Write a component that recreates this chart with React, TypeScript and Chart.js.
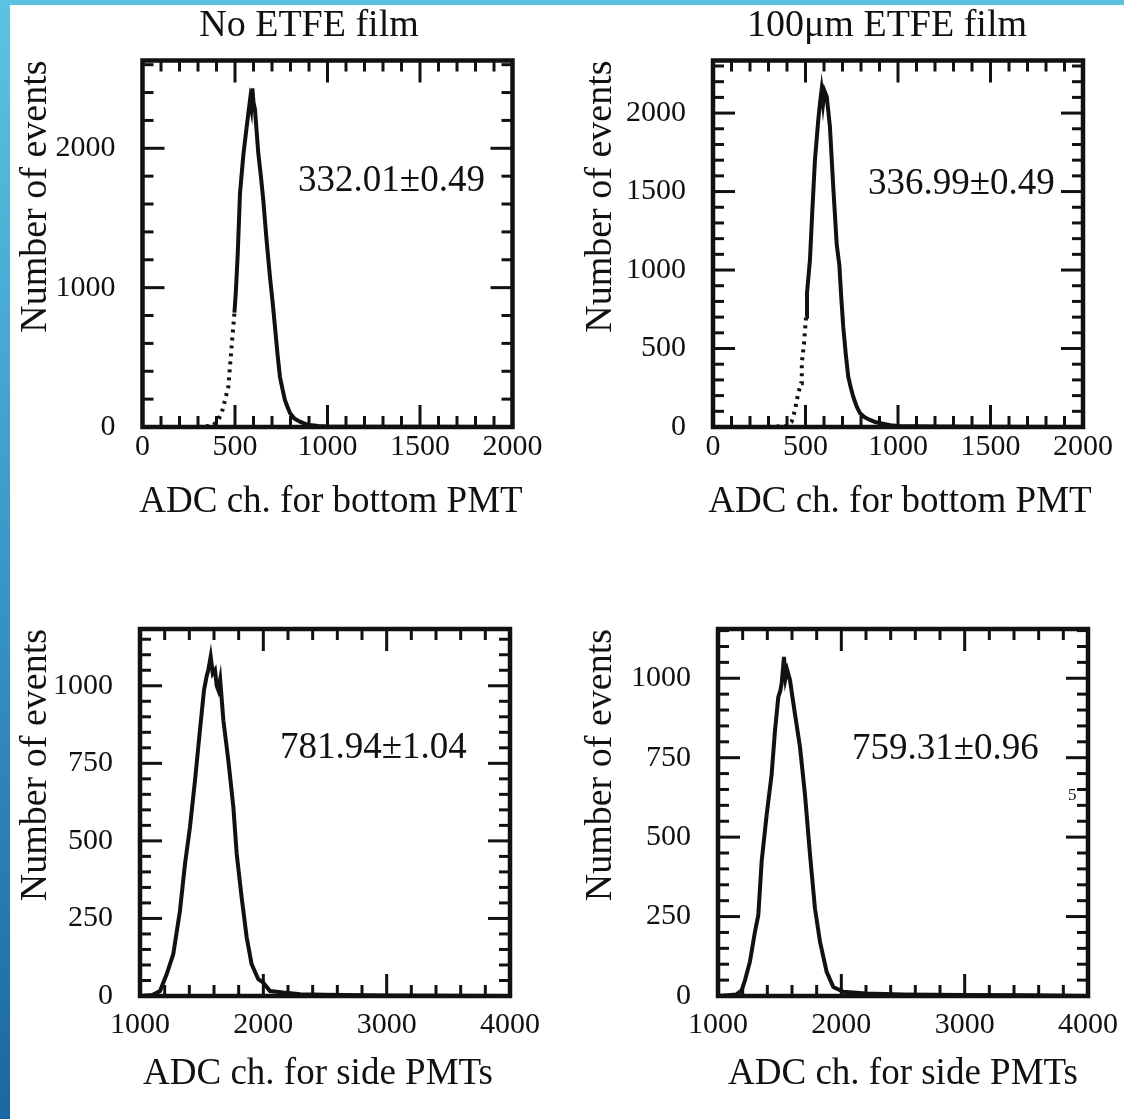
import React, { useEffect, useRef } from 'react';
import { Chart, registerables } from 'chart.js';

Chart.register(...registerables);

const FONT = '"Liberation Serif", "Times New Roman", serif';

// ---- text ----
const panelTitles = ['No ETFE film', '100μm ETFE film', '', ''];
const xAxisTitles = [
  'ADC ch. for bottom PMT',
  'ADC ch. for bottom PMT',
  'ADC ch. for side PMTs',
  'ADC ch. for side PMTs',
];
const yAxisTitle = 'Number of events';
const fitLabels = ['332.01±0.49', '336.99±0.49', '781.94±1.04', '759.31±0.96'];
const fitLabelX = [841, 838, 2135, 2086];
const fitLabelY = [1763, 1548, 799, 778];
const pageNote = '5';

// ---- tick labels ----
const bottomXTicks = [0, 500, 1000, 1500, 2000];
const sideXTicks = [1000, 2000, 3000, 4000];
const noFilmBottomYTicks = [0, 1000, 2000];
const filmBottomYTicks = [0, 500, 1000, 1500, 2000];
const sideYTicks = [0, 250, 500, 750, 1000];

// ---- series: bottom PMT, no film ----
const noFilmBottomADC = [300, 380, 410, 430, 446, 464, 475, 487, 497, 505, 515, 527, 545, 563, 573, 581, 588, 594, 600, 608, 617, 626, 640, 653, 670, 689, 703, 716, 730, 743, 757, 770, 785, 797, 820, 851, 880, 905, 950, 1000, 1200, 1500, 2000];
const noFilmBottomCounts = [0, 10, 50, 110, 193, 289, 470, 660, 820, 980, 1250, 1677, 1950, 2153, 2260, 2344, 2290, 2430, 2330, 2280, 2120, 1964, 1800, 1627, 1350, 1077, 900, 719, 520, 360, 270, 193, 140, 100, 62, 38, 22, 14, 8, 4, 2, 1, 0];

// ---- series: bottom PMT, 100um film ----
const filmBottomADC = [300, 400, 425, 443, 461, 476, 480, 492, 503, 508, 524, 537, 551, 569, 578, 587, 595, 603, 615, 632, 650, 669, 683, 693, 704, 718, 731, 745, 758, 777, 795, 820, 849, 880, 912, 960, 1000, 1200, 1500, 2000];
const filmBottomCounts = [0, 8, 34, 108, 215, 278, 406, 533, 703, 852, 1064, 1380, 1700, 1955, 2060, 2147, 2060, 2140, 2104, 1913, 1530, 1159, 1032, 830, 639, 460, 320, 250, 193, 130, 87, 62, 45, 30, 23, 12, 6, 3, 1, 0];

// ---- series: side PMTs, no film ----
const noFilmSideADC = [1000, 1100, 1162, 1216, 1270, 1324, 1365, 1405, 1446, 1486, 1519, 1540, 1554, 1573, 1590, 1608, 1622, 1635, 1650, 1676, 1716, 1757, 1784, 1824, 1865, 1905, 1959, 2000, 2054, 2162, 2300, 2500, 3000, 3500, 4000];
const noFilmSideCounts = [0, 3, 16, 70, 135, 275, 426, 544, 695, 857, 986, 1030, 1051, 1094, 1040, 1051, 1000, 986, 1020, 889, 760, 609, 458, 318, 189, 103, 54, 43, 16, 11, 6, 4, 2, 1, 0];

// ---- series: side PMTs, 100um film ----
const filmSideADC = [1000, 1150, 1192, 1219, 1259, 1300, 1327, 1354, 1395, 1435, 1462, 1489, 1505, 1516, 1535, 1548, 1562, 1584, 1600, 1624, 1665, 1705, 1746, 1786, 1827, 1881, 1935, 2016, 2200, 2500, 3000, 3500, 4000];
const filmSideCounts = [0, 5, 18, 50, 108, 203, 255, 424, 572, 698, 835, 941, 960, 983, 1067, 1000, 1025, 994, 950, 888, 783, 635, 445, 276, 171, 76, 28, 13, 8, 5, 3, 2, 0];

type PanelCfg = {
  left: number; top: number; width: number; height: number;
  area: { l: number; r: number; t: number; b: number };
  title: string; titleCY: number;
  yTitleCX: number; xTitleCX: number; xTitleCY: number;
  xTitle: string;
  xMin: number; xMax: number; xTicks: number[]; xMinor: number;
  yMax: number; yTicks: number[]; yMinor: number;
  xs: number[]; ys: number[];
  dotUntil: number;
  label: string; labelX: number; labelY: number;
  xTickPad: number;
  note?: string; noteX?: number; noteY?: number;
};

const panels: PanelCfg[] = [
  {
    left: 0, top: 0, width: 618, height: 545,
    area: { l: 142.5, r: 512.5, t: 60.5, b: 427 },
    title: panelTitles[0], titleCY: 26, yTitleCX: 36, xTitleCX: 331, xTitleCY: 502,
    xTitle: xAxisTitles[0],
    xMin: 0, xMax: 2000, xTicks: bottomXTicks, xMinor: 100,
    yMax: 2630, yTicks: noFilmBottomYTicks, yMinor: 200,
    xs: noFilmBottomADC, ys: noFilmBottomCounts, dotUntil: 497,
    label: fitLabels[0], labelX: fitLabelX[0], labelY: fitLabelY[0],
    xTickPad: 2,
  },
  {
    left: 560, top: 0, width: 654, height: 545,
    area: { l: 713, r: 1083, t: 60.5, b: 427 },
    title: panelTitles[1], titleCY: 26, yTitleCX: 601, xTitleCX: 900, xTitleCY: 502,
    xTitle: xAxisTitles[1],
    xMin: 0, xMax: 2000, xTicks: bottomXTicks, xMinor: 100,
    yMax: 2335, yTicks: filmBottomYTicks, yMinor: 100,
    xs: filmBottomADC, ys: filmBottomCounts, dotUntil: 503,
    label: fitLabels[1], labelX: fitLabelX[1], labelY: fitLabelY[1],
    xTickPad: 2,
  },
  {
    left: 0, top: 560, width: 618, height: 559,
    area: { l: 140, r: 510, t: 629, b: 996 },
    title: panelTitles[2], titleCY: 0, yTitleCX: 36, xTitleCX: 318, xTitleCY: 1074,
    xTitle: xAxisTitles[2],
    xMin: 1000, xMax: 4000, xTicks: sideXTicks, xMinor: 200,
    yMax: 1183, yTicks: sideYTicks, yMinor: 50,
    xs: noFilmSideADC, ys: noFilmSideCounts, dotUntil: 0,
    label: fitLabels[2], labelX: fitLabelX[2], labelY: fitLabelY[2],
    xTickPad: 11,
  },
  {
    left: 560, top: 560, width: 654, height: 559,
    area: { l: 718, r: 1088, t: 629, b: 996 },
    title: panelTitles[3], titleCY: 0, yTitleCX: 601, xTitleCX: 903, xTitleCY: 1074,
    xTitle: xAxisTitles[3],
    xMin: 1000, xMax: 4000, xTicks: sideXTicks, xMinor: 200,
    yMax: 1155, yTicks: sideYTicks, yMinor: 50,
    xs: filmSideADC, ys: filmSideCounts, dotUntil: 0,
    label: fitLabels[3], labelX: fitLabelX[3], labelY: fitLabelY[3],
    xTickPad: 11,
    note: pageNote, noteX: 3838, noteY: 630,
  },
];

const framePlugin = {
  id: 'frame',
  afterDraw(chart: any, _args: any, opts: any) {
    const { ctx, chartArea } = chart;
    const { left, right, top, bottom } = chartArea;
    const xs = chart.scales.x;
    const ys = chart.scales.y;
    ctx.save();
    ctx.strokeStyle = '#111';
    ctx.lineCap = 'butt';
    const seg = (x1: number, y1: number, x2: number, y2: number) => {
      ctx.beginPath();
      ctx.moveTo(x1, y1);
      ctx.lineTo(x2, y2);
      ctx.stroke();
    };
    ctx.lineWidth = 3;
    const nx = Math.round((opts.xMax - opts.xMin) / opts.xMinor);
    for (let i = 0; i <= nx; i++) {
      const v = opts.xMin + i * opts.xMinor;
      const len = opts.xTicks.includes(v) ? 22 : 11;
      const px = xs.getPixelForValue(v);
      seg(px, bottom, px, bottom - len);
      seg(px, top, px, top + len);
    }
    const ny = Math.floor(opts.yMax / opts.yMinor);
    for (let i = 0; i <= ny; i++) {
      const v = i * opts.yMinor;
      const len = opts.yTicks.includes(v) ? 22 : 11;
      const py = ys.getPixelForValue(v);
      seg(left, py, left + len, py);
      seg(right, py, right - len, py);
    }
    ctx.lineWidth = 4.5;
    ctx.strokeRect(left, top, right - left, bottom - top);
    ctx.fillStyle = '#111';
    ctx.textBaseline = 'middle';
    // axis title (drawn here so it is not squeezed to the plot width)
    ctx.font = `37px ${FONT}`;
    ctx.textAlign = 'center';
    ctx.fillText(opts.xTitle, opts.xTitleX, opts.xTitleY);
    // fit result
    ctx.textAlign = 'left';
    ctx.fillText(opts.label, xs.getPixelForValue(opts.labelX), ys.getPixelForValue(opts.labelY));
    if (opts.note) {
      ctx.font = `17px ${FONT}`;
      ctx.fillText(opts.note, xs.getPixelForValue(opts.noteX), ys.getPixelForValue(opts.noteY));
    }
    ctx.restore();
  },
};

function Panel({ cfg }: { cfg: PanelCfg }) {
  const ref = useRef<HTMLCanvasElement | null>(null);
  useEffect(() => {
    if (!ref.current) return;
    const tickFont = { family: FONT, size: 30, weight: 'normal' as const };
    const tsize = 38;
    const titleFont = { family: FONT, size: tsize, weight: 'normal' as const, lineHeight: 1.2 };
    const lh = tsize * 1.2;
    const hasTitle = !!cfg.title;
    const titlePadTop = cfg.titleCY - cfg.top - lh / 2;
    const titlePadBottom = cfg.area.t - cfg.top - titlePadTop - lh;
    const chart = new Chart(ref.current, {
      type: 'line',
      data: {
        datasets: [
          {
            data: cfg.xs.map((x, i) => ({ x, y: cfg.ys[i] })),
            borderColor: '#111',
            borderWidth: 4,
            pointRadius: 0,
            tension: 0,
            fill: false,
            segment: {
              borderDash: (c: any) => (c.p1.parsed.x <= cfg.dotUntil ? [3, 5] : undefined),
            },
          },
        ],
      },
      plugins: [framePlugin],
      options: {
        animation: false,
        responsive: false,
        devicePixelRatio: 1,
        layout: {
          padding: { top: hasTitle ? 0 : cfg.area.t - cfg.top, left: 0, right: 0, bottom: 0 },
        },
        plugins: {
          legend: { display: false },
          tooltip: { enabled: false },
          title: {
            display: hasTitle,
            text: cfg.title,
            color: '#111',
            font: titleFont,
            padding: { top: titlePadTop, bottom: titlePadBottom },
          },
          frame: {
            xMin: cfg.xMin, xMax: cfg.xMax, xTicks: cfg.xTicks, xMinor: cfg.xMinor,
            yMax: cfg.yMax, yTicks: cfg.yTicks, yMinor: cfg.yMinor,
            label: cfg.label, labelX: cfg.labelX, labelY: cfg.labelY,
            xTitle: cfg.xTitle, xTitleX: cfg.xTitleCX - cfg.left, xTitleY: cfg.xTitleCY - cfg.top,
            note: cfg.note, noteX: cfg.noteX, noteY: cfg.noteY,
          },
        } as any,
        scales: {
          x: {
            type: 'linear',
            min: cfg.xMin,
            max: cfg.xMax,
            grid: { display: false, drawTicks: false },
            border: { display: false },
            afterBuildTicks: (s: any) => {
              s.ticks = cfg.xTicks.map((v) => ({ value: v }));
            },
            ticks: {
              font: tickFont,
              color: '#111',
              padding: cfg.xTickPad,
              maxRotation: 0,
              autoSkip: false,
              callback: (v: any) => String(v),
            },
            title: { display: false },
            afterFit: (s: any) => {
              s.height = cfg.top + cfg.height - cfg.area.b;
            },
          },
          y: {
            type: 'linear',
            min: 0,
            max: cfg.yMax,
            grid: { display: false, drawTicks: false },
            border: { display: false },
            afterBuildTicks: (s: any) => {
              s.ticks = cfg.yTicks.map((v) => ({ value: v }));
            },
            ticks: {
              font: tickFont,
              color: '#111',
              padding: 27,
              autoSkip: false,
              callback: (v: any) => String(v),
            },
            title: {
              display: true,
              text: yAxisTitle,
              align: 'end',
              color: '#111',
              font: titleFont,
              padding: { top: cfg.yTitleCX - cfg.left - lh / 2, bottom: 0 },
            },
            afterFit: (s: any) => {
              s.width = cfg.area.l - cfg.left;
            },
          },
          yR: {
            type: 'linear',
            position: 'right',
            display: true,
            grid: { display: false, drawTicks: false },
            border: { display: false },
            ticks: { display: false },
            afterFit: (s: any) => {
              s.width = cfg.left + cfg.width - cfg.area.r;
            },
          },
        },
      } as any,
    });
    return () => chart.destroy();
  }, [cfg]);
  return (
    <canvas
      ref={ref}
      width={cfg.width}
      height={cfg.height}
      style={{ position: 'absolute', left: cfg.left, top: cfg.top, width: cfg.width, height: cfg.height }}
    />
  );
}

export default function App() {
  return (
    <div
      style={{
        position: 'fixed',
        left: 0,
        top: 0,
        width: 1124,
        height: 1119,
        overflow: 'hidden',
        background: '#ffffff',
      }}
    >
      {panels.map((p, i) => (
        <Panel key={i} cfg={p} />
      ))}
      <div style={{ position: 'absolute', left: 0, top: 0, width: 1124, height: 5, background: '#59C2E1' }} />
      <div
        style={{
          position: 'absolute',
          left: 0,
          top: 0,
          width: 10,
          height: 1119,
          background: 'linear-gradient(to bottom, #5BC4E2 0%, #3A97C8 50%, #1B67A2 100%)',
        }}
      />
    </div>
  );
}
